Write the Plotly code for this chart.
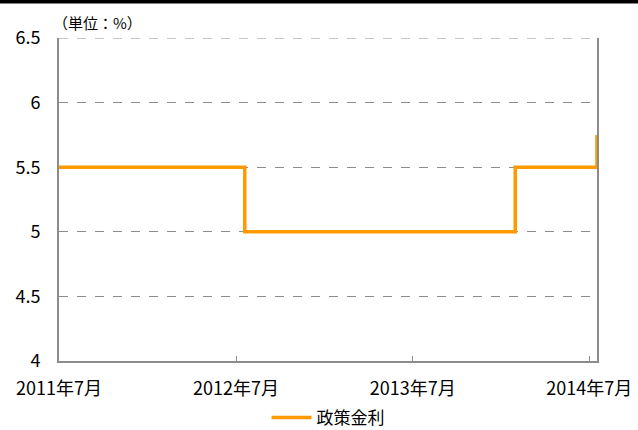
import plotly.graph_objects as go

# Policy rate change dates and levels
change_dates = ["2011-07-01", "2012-07-19", "2014-01-29", "2014-07-17"]
policy_rate = [5.5, 5.0, 5.5, 5.75]
series_name = "政策金利"

x_tick_vals = ["2011-07-01", "2012-07-01", "2013-07-01", "2014-07-01"]
x_tick_text = ["2011年7月", "2012年7月", "2013年7月", "2014年7月"]
y_tick_vals = [4, 4.5, 5, 5.5, 6, 6.5]
y_tick_text = ["4", "4.5", "5", "5.5", "6", "6.5"]

FONT = "Noto Sans CJK JP"

fig = go.Figure()
fig.add_trace(go.Scatter(
    x=change_dates, y=policy_rate, mode="lines", name=series_name,
    line=dict(color="#FF9900", width=3.5, shape="hv"),
))

fig.update_layout(
    width=638, height=430,
    margin=dict(l=59, r=41, t=38, b=69, autoexpand=False),
    paper_bgcolor="white", plot_bgcolor="white",
    font=dict(family=FONT, size=16, color="black"),
    showlegend=True,
    legend=dict(orientation="h", x=0.5, xanchor="center",
                yref="container", y=1 - 418 / 430, yanchor="middle",
                font=dict(size=17), itemwidth=40, tracegroupgap=0),
    xaxis=dict(
        type="date", range=["2011-07-01", "2014-07-17"],
        tickvals=x_tick_vals, ticktext=x_tick_text,
        showgrid=False, showline=True, linecolor="#8c8c8c", linewidth=2,
        ticks="inside", ticklen=5, tickcolor="#8c8c8c", tickwidth=1,
        tickfont=dict(size=18), zeroline=False, automargin=False,
        ticklabelstandoff=10,
    ),
    yaxis=dict(
        range=[4, 6.5], tickvals=y_tick_vals, ticktext=y_tick_text,
        showgrid=True, gridcolor="#8c8c8c", griddash="dash", gridwidth=1,
        showline=True, linecolor="#8c8c8c", linewidth=2, mirror=True,
        ticks="", tickfont=dict(size=18), zeroline=False, automargin=False,
        ticklabelstandoff=13,
    ),
    shapes=[
        dict(type="rect", xref="paper", yref="paper", x0=-0.2, x1=1.2,
             y0=1 + 34.5 / 323, y1=1.3, fillcolor="black", line=dict(width=0)),
        dict(type="line", xref="paper", yref="y", x0=0, x1=1, y0=6.5, y1=6.5,
             line=dict(color="#8c8c8c", width=1, dash="dash")),
    ],
    annotations=[
        dict(text="（単位：%）", xref="paper", yref="paper", x=0.0, y=1.0,
             yshift=16, xshift=-8, xanchor="left", yanchor="middle", showarrow=False,
             font=dict(size=15)),
    ],
)

fig.write_html("out.html", config={"displayModeBar": False},
               post_script="document.body.style.margin='0px';")
